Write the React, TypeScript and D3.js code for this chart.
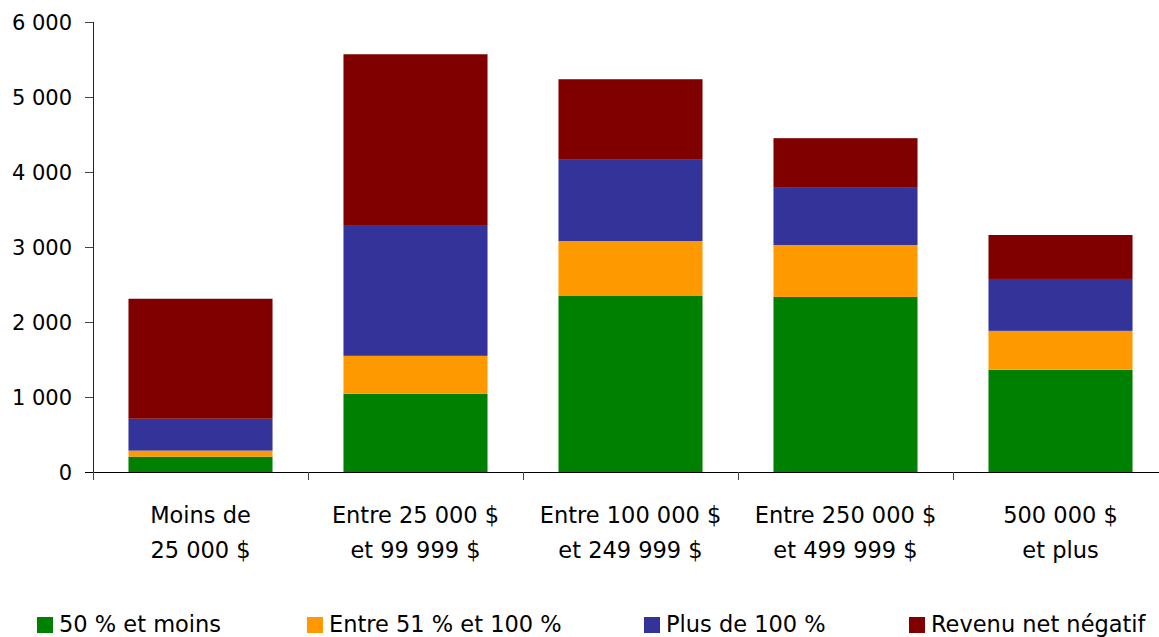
import React from "react";
import * as d3 from "d3";

// Income brackets (two-line labels)
const categories = [
  ["Moins de", "25 000 $"],
  ["Entre 25 000 $", "et 99 999 $"],
  ["Entre 100 000 $", "et 249 999 $"],
  ["Entre 250 000 $", "et 499 999 $"],
  ["500 000 $", "et plus"],
];

// Stacked series, bottom to top
const seriesNames = ["50 % et moins", "Entre 51 % et 100 %", "Plus de 100 %", "Revenu net négatif"];
const seriesColors = ["#008000", "#FF9900", "#333399", "#800000"];
const lowShare = [205, 1043, 2347, 2334, 1363];
const midShare = [80, 506, 733, 693, 519];
const highShare = [425, 1744, 1092, 772, 692];
const negativeIncome = [1600, 2277, 1065, 652, 586];

const yTicks = [0, 1000, 2000, 3000, 4000, 5000, 6000];
const legendX = [37, 307, 644, 909];

const W = 1159;
const H = 637;
const left = 93;
const right = 1168;
const top = 22;
const bottom = 472;
const font = "'DejaVu Sans', Verdana, sans-serif";

const fmt = (v: number) => d3.format(",")(v).replace(/,/g, " ");

export default function App() {
  const x = d3.scaleBand<number>().domain(d3.range(categories.length)).range([left, right]).paddingInner(0.33).paddingOuter(0.165);
  const y = d3.scaleLinear().domain([0, 6000]).range([bottom, top]);

  const rows = categories.map((_, i) => ({
    i,
    s0: lowShare[i],
    s1: midShare[i],
    s2: highShare[i],
    s3: negativeIncome[i],
  }));
  const stack = d3.stack<any>().keys(["s0", "s1", "s2", "s3"])(rows);
  const band = (right - left) / categories.length;

  return (
    <svg width={W} height={H} style={{ position: "absolute", left: 0, top: 0, background: "#fff" }}>
      {stack.map((layer, k) => (
        <g key={k} fill={seriesColors[k]}>
          {layer.map((d, i) => (
            <rect
              key={i}
              x={x(i)!}
              width={x.bandwidth()}
              y={y(d[1])}
              height={y(d[0]) - y(d[1])}
            />
          ))}
        </g>
      ))}

      {/* y axis */}
      <line x1={left + 0.5} x2={left + 0.5} y1={top} y2={bottom} stroke="#222" />
      {yTicks.map((t) => (
        <g key={t}>
          <line x1={85} x2={left} y1={Math.round(y(t)) + 0.5} y2={Math.round(y(t)) + 0.5} stroke="#444" />
          <text x={72} y={y(t)} dy="0.36em" textAnchor="end" fontFamily={font} fontSize={21} fill="#000">
            {fmt(t)}
          </text>
        </g>
      ))}

      {/* x axis */}
      <line x1={85} x2={W} y1={bottom + 0.5} y2={bottom + 0.5} stroke="#000" />
      {d3.range(categories.length + 1).map((i) => (
        <line key={i} x1={left + i * band + 0.5} x2={left + i * band + 0.5} y1={bottom} y2={bottom + 8} stroke="#444" />
      ))}
      {categories.map((lines, i) => (
        <text key={i} textAnchor="middle" fontFamily={font} fontSize={22.5} fill="#000">
          {lines.map((l, j) => (
            <tspan key={j} x={x(i)! + x.bandwidth() / 2} y={523 + j * 35}>
              {l}
            </tspan>
          ))}
        </text>
      ))}

      {/* legend */}
      {seriesNames.map((n, k) => (
        <g key={k}>
          <rect x={legendX[k]} y={617} width={16} height={16} fill={seriesColors[k]} />
          <text x={legendX[k] + 22} y={632} fontFamily={font} fontSize={22.5} fill="#000">
            {n}
          </text>
        </g>
      ))}
    </svg>
  );
}
